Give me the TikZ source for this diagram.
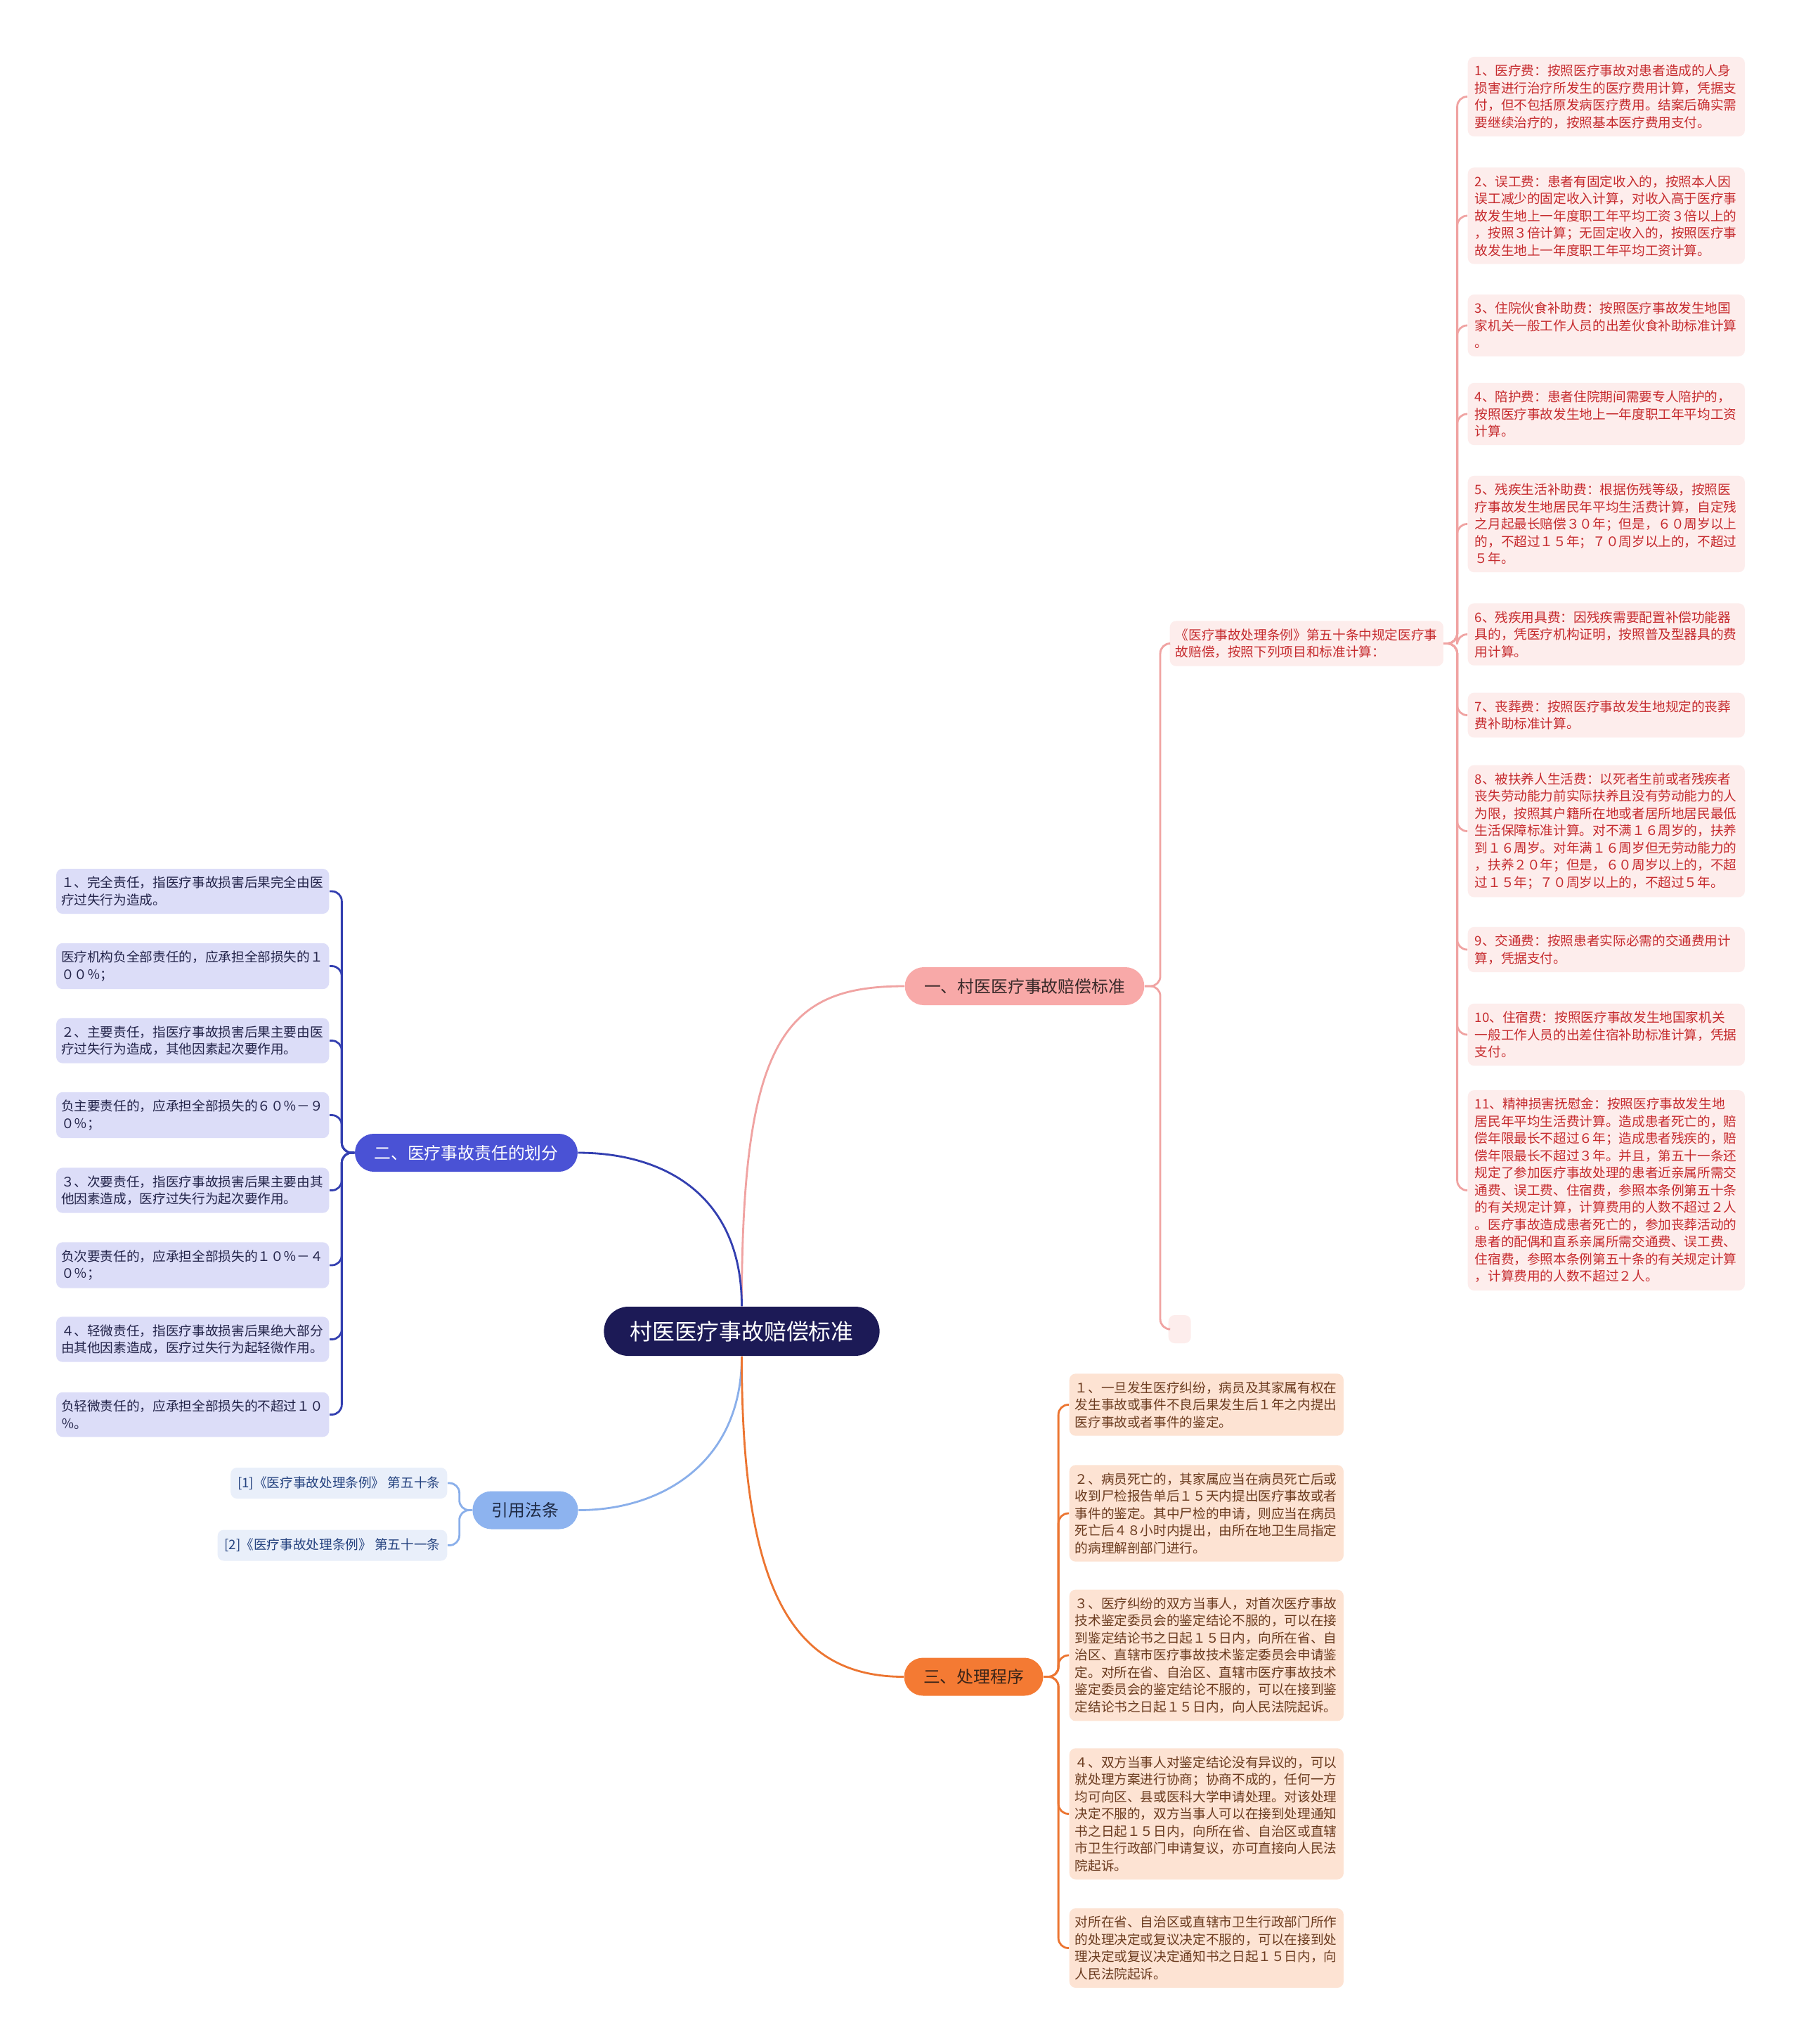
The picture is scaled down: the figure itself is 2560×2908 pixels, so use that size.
\documentclass[tikz,border=0pt]{standalone}
\usepackage{fontspec}
\setmainfont{Noto Sans CJK SC}
\usepackage{tikz}
\definecolor{cRoot}{HTML}{1C1A56}
\definecolor{cRose}{HTML}{F8A9A8}
\definecolor{cRoseInk}{HTML}{3A2A2A}
\definecolor{cRoseLn}{HTML}{F0A3A2}
\definecolor{cRoseBox}{HTML}{FDEDEC}
\definecolor{cRoseTxt}{HTML}{C62B2E}
\definecolor{cIndigo}{HTML}{4A52D5}
\definecolor{cIndigoLn}{HTML}{333FB0}
\definecolor{cIndigoBox}{HTML}{DCDDF8}
\definecolor{cIndigoTxt}{HTML}{23244A}
\definecolor{cSky}{HTML}{8DB3EF}
\definecolor{cSkyInk}{HTML}{1E2A44}
\definecolor{cSkyLn}{HTML}{8AAFEA}
\definecolor{cSkyBox}{HTML}{E9EFFA}
\definecolor{cSkyTxt}{HTML}{24427F}
\definecolor{cOrange}{HTML}{F47A33}
\definecolor{cOrangeInk}{HTML}{3A2418}
\definecolor{cOrangeLn}{HTML}{EC7531}
\definecolor{cOrangeBox}{HTML}{FDE3D3}
\definecolor{cOrangeTxt}{HTML}{6B3B1F}
\tikzset{
  rootbox/.style={fill=cRoot,text=white,rounded corners=0.35cm,minimum height=0.70cm,inner xsep=0.37cm,inner ysep=0pt,font=\fontsize{9.05}{10}\selectfont},
  topic/.style={fill=#1,rounded corners=0.27cm,minimum height=0.54cm,inner xsep=0.275cm,inner ysep=0pt,font=\fontsize{6.77}{8}\selectfont},
  leaf/.style={fill=#1,rounded corners=0.09cm,align=left,text width=3.74cm,inner xsep=0.1cm,inner ysep=0.11cm,font=\fontsize{5.3}{6.97}\selectfont},
  cite/.style={fill=cSkyBox,text=cSkyTxt,rounded corners=0.09cm,minimum height=0.44cm,inner xsep=0.1cm,inner ysep=0pt,anchor=east,font=\fontsize{5.3}{6.5}\selectfont},
  link/.style={draw=#1,line width=0.8pt,rounded corners=4pt},
}
\begin{document}
\begin{tikzpicture}[x=0.01cm,y=-0.01cm]
\useasboundingbox (0,0) rectangle (2560,2908);
\fill[white] (0,0) rectangle (2560,2908);
% centre and main topics
\node[rootbox] (root) at (1055.5,1894) {村医医疗事故赔偿标准};
\node[topic=cRose,text=cRoseInk] (t1) at (1458,1403) {一、村医医疗事故赔偿标准};
\node[topic=cIndigo,text=white] (t2) at (663.5,1640) {二、医疗事故责任的划分};
\node[topic=cSky,text=cSkyInk] (t3) at (747.5,2148.5) {引用法条};
\node[topic=cOrange,text=cOrangeInk] (t4) at (1385.5,2385.5) {三、处理程序};

% branch one
\node[leaf=cRoseBox,text=cRoseTxt,text width=3.73cm,inner xsep=0.08cm,anchor=west] (intro) at (1664,915.5) {《医疗事故处理条例》第五十条中规定医疗事\\故赔偿，按照下列项目和标准计算：};
\node[fill=cRoseBox,rounded corners=0.09cm,minimum width=0.32cm,minimum height=0.40cm,inner sep=0pt,anchor=west] (blank) at (1662,1891) {};
\node[leaf=cRoseBox,text=cRoseTxt,anchor=west] (r1) at (2088,137.5) {1、医疗费：按照医疗事故对患者造成的人身\\损害进行治疗所发生的医疗费用计算，凭据支\\付，但不包括原发病医疗费用。结案后确实需\\要继续治疗的，按照基本医疗费用支付。};
\node[leaf=cRoseBox,text=cRoseTxt,anchor=west] (r2) at (2088,307) {2、误工费：患者有固定收入的，按照本人因\\误工减少的固定收入计算，对收入高于医疗事\\故发生地上一年度职工年平均工资３倍以上的\\，按照３倍计算；无固定收入的，按照医疗事\\故发生地上一年度职工年平均工资计算。};
\node[leaf=cRoseBox,text=cRoseTxt,anchor=west] (r3) at (2088,463) {3、住院伙食补助费：按照医疗事故发生地国\\家机关一般工作人员的出差伙食补助标准计算\\。};
\node[leaf=cRoseBox,text=cRoseTxt,anchor=west] (r4) at (2088,589) {4、陪护费：患者住院期间需要专人陪护的，\\按照医疗事故发生地上一年度职工年平均工资\\计算。};
\node[leaf=cRoseBox,text=cRoseTxt,anchor=west] (r5) at (2088,745.5) {5、残疾生活补助费：根据伤残等级，按照医\\疗事故发生地居民年平均生活费计算，自定残\\之月起最长赔偿３０年；但是，６０周岁以上\\的，不超过１５年；７０周岁以上的，不超过\\５年。};
\node[leaf=cRoseBox,text=cRoseTxt,anchor=west] (r6) at (2088,902.5) {6、残疾用具费：因残疾需要配置补偿功能器\\具的，凭医疗机构证明，按照普及型器具的费\\用计算。};
\node[leaf=cRoseBox,text=cRoseTxt,anchor=west] (r7) at (2088,1017.5) {7、丧葬费：按照医疗事故发生地规定的丧葬\\费补助标准计算。};
\node[leaf=cRoseBox,text=cRoseTxt,anchor=west] (r8) at (2088,1182.5) {8、被扶养人生活费：以死者生前或者残疾者\\丧失劳动能力前实际扶养且没有劳动能力的人\\为限，按照其户籍所在地或者居所地居民最低\\生活保障标准计算。对不满１６周岁的，扶养\\到１６周岁。对年满１６周岁但无劳动能力的\\，扶养２０年；但是，６０周岁以上的，不超\\过１５年；７０周岁以上的，不超过５年。};
\node[leaf=cRoseBox,text=cRoseTxt,anchor=west] (r9) at (2088,1351) {9、交通费：按照患者实际必需的交通费用计\\算，凭据支付。};
\node[leaf=cRoseBox,text=cRoseTxt,anchor=west] (r10) at (2088,1472) {10、住宿费：按照医疗事故发生地国家机关\\一般工作人员的出差住宿补助标准计算，凭据\\支付。};
\node[leaf=cRoseBox,text=cRoseTxt,anchor=west] (r11) at (2088,1693.5) {11、精神损害抚慰金：按照医疗事故发生地\\居民年平均生活费计算。造成患者死亡的，赔\\偿年限最长不超过６年；造成患者残疾的，赔\\偿年限最长不超过３年。并且，第五十一条还\\规定了参加医疗事故处理的患者近亲属所需交\\通费、误工费、住宿费，参照本条例第五十条\\的有关规定计算，计算费用的人数不超过２人\\。医疗事故造成患者死亡的，参加丧葬活动的\\患者的配偶和直系亲属所需交通费、误工费、\\住宿费，参照本条例第五十条的有关规定计算\\，计算费用的人数不超过２人。};

% branch two
\node[leaf=cIndigoBox,text=cIndigoTxt,inner xsep=0.07cm,anchor=east] (l1) at (469,1268) {１、完全责任，指医疗事故损害后果完全由医\\疗过失行为造成。};
\node[leaf=cIndigoBox,text=cIndigoTxt,inner xsep=0.07cm,anchor=east] (l2) at (469,1374.5) {医疗机构负全部责任的，应承担全部损失的１\\００％；};
\node[leaf=cIndigoBox,text=cIndigoTxt,inner xsep=0.07cm,anchor=east] (l3) at (469,1480.5) {２、主要责任，指医疗事故损害后果主要由医\\疗过失行为造成，其他因素起次要作用。};
\node[leaf=cIndigoBox,text=cIndigoTxt,inner xsep=0.07cm,anchor=east] (l4) at (469,1586.5) {负主要责任的，应承担全部损失的６０％－９\\０％；};
\node[leaf=cIndigoBox,text=cIndigoTxt,inner xsep=0.07cm,anchor=east] (l5) at (469,1693.5) {３、次要责任，指医疗事故损害后果主要由其\\他因素造成，医疗过失行为起次要作用。};
\node[leaf=cIndigoBox,text=cIndigoTxt,inner xsep=0.07cm,anchor=east] (l6) at (469,1800) {负次要责任的，应承担全部损失的１０％－４\\０％；};
\node[leaf=cIndigoBox,text=cIndigoTxt,inner xsep=0.07cm,anchor=east] (l7) at (469,1905.5) {４、轻微责任，指医疗事故损害后果绝大部分\\由其他因素造成，医疗过失行为起轻微作用。};
\node[leaf=cIndigoBox,text=cIndigoTxt,inner xsep=0.07cm,anchor=east] (l8) at (469,2012.5) {负轻微责任的，应承担全部损失的不超过１０\\％。};

% cited articles
\node[cite] (c1) at (637,2110) {[1]《医疗事故处理条例》 第五十条};
\node[cite] (c2) at (637,2198.5) {[2]《医疗事故处理条例》 第五十一条};

% branch three
\node[leaf=cOrangeBox,text=cOrangeTxt,inner xsep=0.08cm,anchor=west] (o1) at (1521,1998.5) {１、一旦发生医疗纠纷，病员及其家属有权在\\发生事故或事件不良后果发生后１年之内提出\\医疗事故或者事件的鉴定。};
\node[leaf=cOrangeBox,text=cOrangeTxt,inner xsep=0.08cm,anchor=west] (o2) at (1521,2153) {２、病员死亡的，其家属应当在病员死亡后或\\收到尸检报告单后１５天内提出医疗事故或者\\事件的鉴定。其中尸检的申请，则应当在病员\\死亡后４８小时内提出，由所在地卫生局指定\\的病理解剖部门进行。};
\node[leaf=cOrangeBox,text=cOrangeTxt,inner xsep=0.08cm,anchor=west] (o3) at (1521,2355) {３、医疗纠纷的双方当事人，对首次医疗事故\\技术鉴定委员会的鉴定结论不服的，可以在接\\到鉴定结论书之日起１５日内，向所在省、自\\治区、直辖市医疗事故技术鉴定委员会申请鉴\\定。对所在省、自治区、直辖市医疗事故技术\\鉴定委员会的鉴定结论不服的，可以在接到鉴\\定结论书之日起１５日内，向人民法院起诉。};
\node[leaf=cOrangeBox,text=cOrangeTxt,inner xsep=0.08cm,anchor=west] (o4) at (1521,2580.5) {４、双方当事人对鉴定结论没有异议的，可以\\就处理方案进行协商；协商不成的，任何一方\\均可向区、县或医科大学申请处理。对该处理\\决定不服的，双方当事人可以在接到处理通知\\书之日起１５日内，向所在省、自治区或直辖\\市卫生行政部门申请复议，亦可直接向人民法\\院起诉。};
\node[leaf=cOrangeBox,text=cOrangeTxt,inner xsep=0.08cm,anchor=west] (o5) at (1521,2771.5) {对所在省、自治区或直辖市卫生行政部门所作\\的处理决定或复议决定不服的，可以在接到处\\理决定或复议决定通知书之日起１５日内，向\\人民法院起诉。};

% connectors
\draw[link=cRoseLn] (root.north) .. controls +(0,-380) and +(-170,0) .. (t1.west);
\draw[link=cIndigoLn] (root.north) .. controls +(0,-160) and +(120,0) .. (t2.east);
\draw[link=cSkyLn] (root.south) .. controls +(0,150) and +(120,0) .. (t3.east);
\draw[link=cOrangeLn] (root.south) .. controls +(0,330) and +(-160,0) .. (t4.west);
\foreach \n in {intro,blank} \draw[link=cRoseLn] (t1.east) -- ++(22,0) |- (\n.west);
\foreach \n in {1,...,11} \draw[link=cRoseLn] (intro.east) -- ++(19,0) |- (r\n.west);
\foreach \n in {1,...,8} \draw[link=cIndigoLn] (t2.west) -- ++(-18,0) |- (l\n.east);
\foreach \n in {1,2} \draw[link=cSkyLn] (t3.west) -- ++(-18,0) |- (c\n.east);
\foreach \n in {1,...,5} \draw[link=cOrangeLn] (t4.east) -- ++(21,0) |- (o\n.west);
\end{tikzpicture}
\end{document}
